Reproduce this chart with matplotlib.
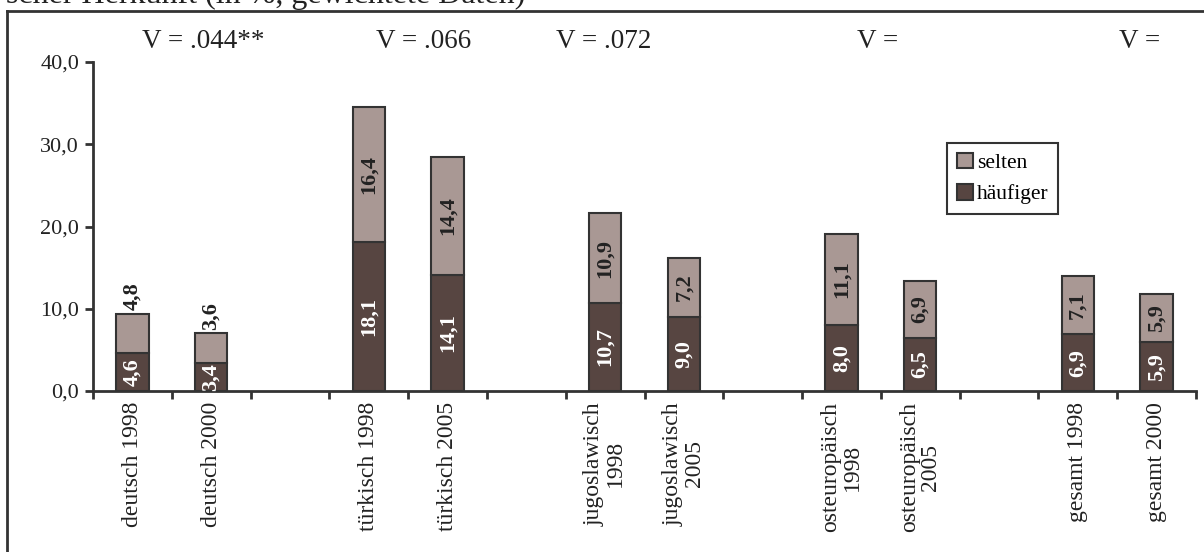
import matplotlib
matplotlib.use("Agg")
import matplotlib.pyplot as plt
from matplotlib.lines import Line2D

plt.rcParams['font.family'] = ['Liberation Serif', 'DejaVu Serif']

# ---- data ----
categories = ["deutsch 1998", "deutsch 2000", "",
              "türkisch 1998", "türkisch 2005", "",
              "jugoslawisch\n1998", "jugoslawisch\n2005", "",
              "osteuropäisch\n1998", "osteuropäisch\n2005", "",
              "gesamt 1998", "gesamt 2000"]
haeufiger = [4.6, 3.4, None, 18.1, 14.1, None, 10.7, 9.0, None, 8.0, 6.5, None, 6.9, 5.9]
selten = [4.8, 3.6, None, 16.4, 14.4, None, 10.9, 7.2, None, 11.1, 6.9, None, 7.1, 5.9]
v_labels = ["V = .044**", "V = .066", "V = .072", "V =", "V ="]
v_positions = [0.9, 3.7, 5.98, 9.46, 12.79]
yticks = [0, 10, 20, 30, 40]
title_text = "scher Herkunft (in %, gewichtete Daten)"

dark = '#574541'
light = '#a99894'
edge = '#333333'

fig = plt.figure(figsize=(12.04, 5.52), dpi=100)
W, H = 1204, 552
ax = fig.add_axes([93 / W, 1 - 391 / H, (1196 - 93) / W, (391 - 62) / H])

n = len(categories)
xs = list(range(n))
bw = 0.41
for i in xs:
    h = haeufiger[i]
    s = selten[i]
    if h is None:
        continue
    ax.bar(i, h, width=bw, color=dark, edgecolor=edge, linewidth=1.5, zorder=3)
    ax.bar(i, s, bottom=h, width=bw, color=light, edgecolor=edge, linewidth=1.5, zorder=3)
    fmt = lambda v: f"{v:.1f}".replace('.', ',')
    ax.text(i, h / 2, fmt(h), rotation=90, ha='center', va='center',
            color='white', fontsize=16, fontweight='bold', zorder=4)
    if s < 6 and i < 2:
        ax.text(i, h + s + 0.4, fmt(s), rotation=90, ha='center', va='bottom',
                color='#222222', fontsize=16, fontweight='bold', zorder=4)
    else:
        ax.text(i, h + s / 2, fmt(s), rotation=90, ha='center', va='center',
                color='#222222', fontsize=16, fontweight='bold', zorder=4)

ax.set_xlim(-0.5, n - 0.5)
ax.set_ylim(0, 40)
ax.set_yticks(yticks)
ax.set_yticklabels([f"{v:.1f}".replace('.', ',') for v in yticks], fontsize=16, color='#222222')

ax.set_xticks([i - 0.5 for i in range(n + 1)])
ax.set_xticklabels([])
ax.set_xticks(xs, minor=True)
ax.set_xticklabels(categories, minor=True, rotation=90, va='top', ha='center',
                   multialignment='center', fontsize=17, color='#222222',
                   linespacing=1.0)
ax.tick_params(axis='x', which='minor', length=0, pad=8)
ax.tick_params(axis='x', which='major', length=6, width=2, color=edge, direction='out')
ax.tick_params(axis='y', length=6, width=2, color=edge, direction='out', pad=4)

for sp in ['top', 'right']:
    ax.spines[sp].set_visible(False)
for sp in ['left', 'bottom']:
    ax.spines[sp].set_linewidth(2)
    ax.spines[sp].set_color(edge)

for lab, xp in zip(v_labels, v_positions):
    ax.text(xp, 42.55, lab, ha='center', va='center', fontsize=19.5, color='#222222',
            clip_on=False)

handles = [plt.Rectangle((0, 0), 1, 1, facecolor=light, edgecolor=edge, linewidth=1.5),
           plt.Rectangle((0, 0), 1, 1, facecolor=dark, edgecolor=edge, linewidth=1.5)]
leg = fig.legend(handles, ["selten", "häufiger"], loc='upper left',
                 bbox_to_anchor=(947 / W, 1 - 143 / H), fontsize=15.5,
                 frameon=True, fancybox=False, handlelength=0.75, handleheight=0.75,
                 handletextpad=0.2, labelspacing=0.5, borderpad=0.45, borderaxespad=0)
leg.get_frame().set_edgecolor('black')
leg.get_frame().set_linewidth(1.5)

# outer frame
fig.add_artist(Line2D([7 / W, 7 / W], [1 - 11 / H, 0], transform=fig.transFigure,
                      color=edge, linewidth=2))
fig.add_artist(Line2D([7 / W, 1], [1 - 11 / H, 1 - 11 / H], transform=fig.transFigure,
                      color=edge, linewidth=2))
fig.text(6 / W, 1 - 2.5 / H, title_text, ha='left', va='baseline', fontsize=23, color='#222222')

fig.savefig("out.png", dpi=100)
